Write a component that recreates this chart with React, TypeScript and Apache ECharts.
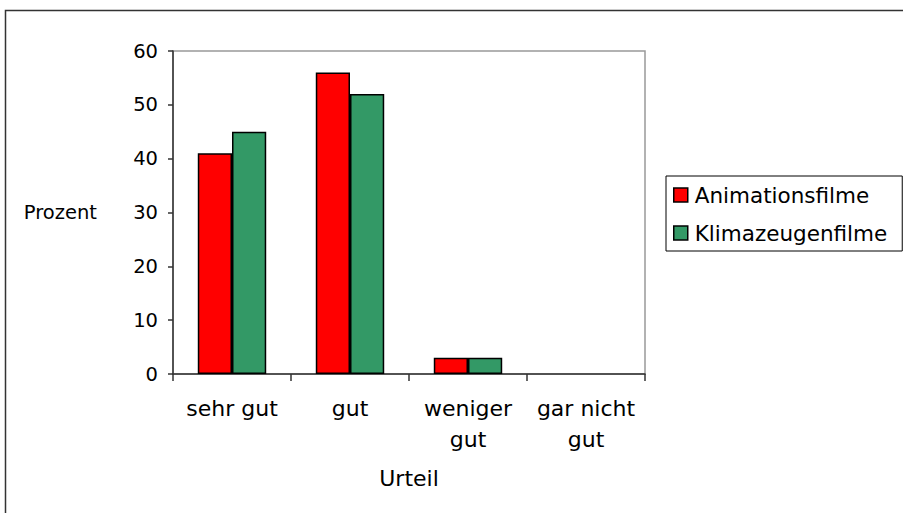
import React, { useEffect, useRef } from "react";
import * as echarts from "echarts";

const categories = ["sehr gut", "gut", "weniger\ngut", "gar nicht\ngut"];
const animationsfilme = [41, 56, 3, 0];
const klimazeugenfilme = [45, 52, 3, 0];
const seriesNames = ["Animationsfilme", "Klimazeugenfilme"];
const yMin = 0;
const yMax = 60;
const yStep = 10;

const FONT = "DejaVu Sans";

function toItems(values: number[]) {
  return values.map((v) =>
    v === 0 ? { value: v, itemStyle: { borderWidth: 0 } } : { value: v }
  );
}

export default function App() {
  const ref = useRef<HTMLDivElement>(null);
  useEffect(() => {
    if (!ref.current) return;
    const chart = echarts.init(ref.current, undefined, { renderer: "svg" });
    const barBorder = { borderColor: "#000", borderWidth: 1.5 };
    chart.setOption({
      animation: false,
      backgroundColor: "#fff",
      textStyle: { fontFamily: FONT },
      graphic: [
        {
          type: "rect",
          shape: { x: 5.5, y: 10.5, width: 1000, height: 1000 },
          style: { fill: "none", stroke: "#333", lineWidth: 1.5 },
          silent: true,
          z: -10,
        },
      ],
      grid: {
        left: 173,
        right: 258,
        top: 51,
        bottom: 139,
        show: true,
        borderColor: "#999",
        borderWidth: 1.5,
        backgroundColor: "transparent",
      },
      legend: {
        orient: "vertical",
        left: 666,
        top: 176,
        padding: [8, 15, 7, 7],
        itemGap: 16,
        itemWidth: 14,
        itemHeight: 14,
        icon: "rect",
        backgroundColor: "#fff",
        borderColor: "#000",
        borderWidth: 1,
        borderRadius: 0,
        itemStyle: { borderColor: "#000", borderWidth: 1.5 },
        textStyle: {
          fontFamily: FONT,
          fontSize: 21.5,
          color: "#000",
          lineHeight: 22,
          padding: [0, 0, 0, 2],
        },
        data: seriesNames,
      },
      xAxis: {
        type: "category",
        data: categories,
        name: "Urteil",
        nameLocation: "middle",
        nameGap: 93,
        nameTextStyle: { fontFamily: FONT, fontSize: 22, color: "#000" },
        axisLine: { show: true, lineStyle: { color: "#333", width: 1.5 } },
        axisTick: { show: true, length: 7, lineStyle: { color: "#333", width: 1.5 } },
        axisLabel: {
          fontFamily: FONT,
          fontSize: 22,
          color: "#000",
          margin: 19,
          lineHeight: 31,
          interval: 0,
        },
        splitLine: { show: false },
      },
      yAxis: {
        type: "value",
        min: yMin,
        max: yMax,
        interval: yStep,
        name: "Prozent",
        nameLocation: "middle",
        nameRotate: 0,
        nameGap: 76,
        nameTextStyle: { fontFamily: FONT, fontSize: 19.5, color: "#000" },
        axisLine: { show: true, lineStyle: { color: "#333", width: 1.5 } },
        axisTick: { show: true, length: 5, lineStyle: { color: "#333", width: 1.5 } },
        axisLabel: { fontFamily: FONT, fontSize: 19.5, color: "#000", margin: 15 },
        splitLine: { show: false },
      },
      series: [
        {
          name: seriesNames[0],
          type: "bar",
          data: toItems(animationsfilme),
          barGap: "0%",
          barCategoryGap: "42%",
          itemStyle: { color: "#FF0000", ...barBorder },
        },
        {
          name: seriesNames[1],
          type: "bar",
          data: toItems(klimazeugenfilme),
          barGap: "0%",
          barCategoryGap: "42%",
          itemStyle: { color: "#339966", ...barBorder },
        },
      ],
    });
    return () => chart.dispose();
  }, []);
  return (
    <div
      ref={ref}
      style={{ position: "fixed", left: 0, top: 0, width: 903, height: 513 }}
    />
  );
}
